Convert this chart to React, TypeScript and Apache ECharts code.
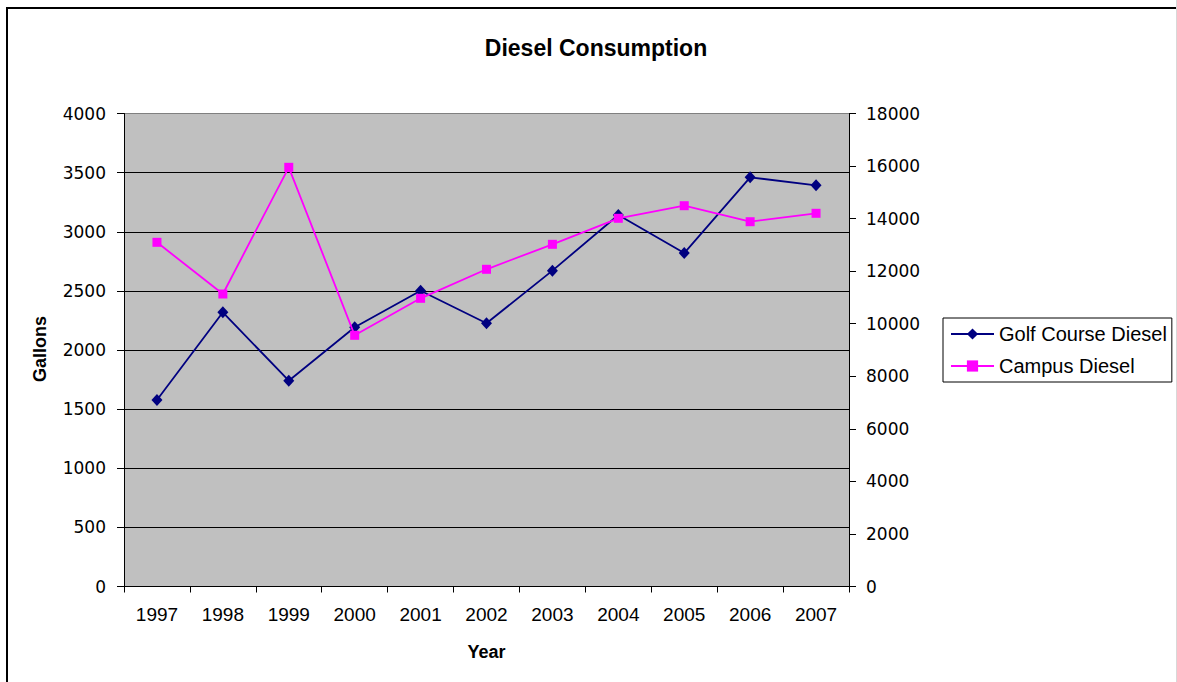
import React, { useEffect, useRef } from "react";
import * as echarts from "echarts";

const years = ["1997", "1998", "1999", "2000", "2001", "2002", "2003", "2004", "2005", "2006", "2007"];
const golfCourseDiesel = [1577, 2319, 1740, 2192, 2501, 2226, 2671, 3142, 2820, 3460, 3393];
const campusDiesel = [13098, 11131, 15952, 9559, 10967, 12071, 13022, 14012, 14491, 13882, 14202];

const titleText = "Diesel Consumption";
const yAxisTitle = "Gallons";
const xAxisTitle = "Year";

export default function App() {
  const ref = useRef<HTMLDivElement>(null);

  useEffect(() => {
    if (!ref.current) return;
    const chart = echarts.init(ref.current, undefined, { renderer: "svg" });
    const valueFont = {
      fontFamily: "DejaVu Sans",
      fontSize: 17,
      color: "#000",
      formatter: (v: number) => String(v),
    };
    const option: any = {
      animation: false,
      backgroundColor: "#fff",
      grid: {
        left: 124,
        right: 328,
        top: 113.5,
        bottom: 95.5,
        show: true,
        backgroundColor: "#C0C0C0",
        borderWidth: 0,
      },
      legend: {
        orient: "vertical",
        left: 943,
        top: 318,
        padding: [6, 5, 6, 7],
        itemWidth: 43,
        itemHeight: 14,
        itemGap: 12,
        borderColor: "#000",
        borderWidth: 1,
        textStyle: { fontFamily: "Liberation Sans", fontSize: 20, lineHeight: 20, color: "#000" },
        data: ["Golf Course Diesel", "Campus Diesel"],
      },
      xAxis: {
        type: "category",
        data: years,
        boundaryGap: true,
        axisLine: { lineStyle: { color: "#000", width: 1 } },
        axisTick: { show: true, length: 6, lineStyle: { color: "#000" } },
        axisLabel: { margin: 18, fontFamily: "Liberation Sans", fontSize: 19, color: "#000" },
        splitLine: { show: false },
      },
      yAxis: [
        {
          type: "value",
          min: 0,
          max: 4000,
          interval: 500,
          position: "left",
          axisLine: { show: true, lineStyle: { color: "#000", width: 1 } },
          axisTick: { show: true, length: 7, lineStyle: { color: "#000" } },
          axisLabel: { margin: 18, ...valueFont },
          splitLine: {
            show: true,
            lineStyle: {
              color: ["#000", "#000", "#000", "#000", "#000", "#000", "#000", "#000", "#808080"],
              width: 1,
            },
          },
        },
        {
          type: "value",
          min: 0,
          max: 18000,
          interval: 2000,
          position: "right",
          axisLine: { show: true, lineStyle: { color: "#000", width: 1 } },
          axisTick: { show: true, length: 7, lineStyle: { color: "#000" } },
          axisLabel: { margin: 17, ...valueFont },
          splitLine: { show: false },
        },
      ],
      series: [
        {
          name: "Golf Course Diesel",
          type: "line",
          yAxisIndex: 0,
          data: golfCourseDiesel,
          symbol: "diamond",
          symbolSize: [11, 12],
          lineStyle: { color: "#000080", width: 1.8 },
          itemStyle: { color: "#000080" },
          z: 3,
        },
        {
          name: "Campus Diesel",
          type: "line",
          yAxisIndex: 1,
          data: campusDiesel,
          symbol: "rect",
          symbolSize: 9,
          lineStyle: { color: "#FF00FF", width: 1.8 },
          itemStyle: { color: "#FF00FF" },
          z: 4,
        },
      ],
      graphic: [
        {
          type: "rect",
          shape: { x: 7, y: 8, width: 1180, height: 700 },
          style: { fill: "none", stroke: "#000", lineWidth: 2 },
          silent: true,
          z: -1,
        },
        {
          type: "line",
          shape: { x1: 1176.5, y1: 0, x2: 1176.5, y2: 682 },
          style: { stroke: "#d8d8d8", lineWidth: 1 },
          silent: true,
        },
        {
          type: "text",
          x: 596,
          y: 47.5,
          style: {
            text: titleText,
            fontFamily: "Liberation Sans",
            fontWeight: "bold",
            fontSize: 23,
            fill: "#000",
            align: "center",
            verticalAlign: "middle",
          },
        },
        {
          type: "text",
          x: 40,
          y: 349,
          rotation: Math.PI / 2,
          style: {
            text: yAxisTitle,
            fontFamily: "Liberation Sans",
            fontWeight: "bold",
            fontSize: 18,
            fill: "#000",
            align: "center",
            verticalAlign: "middle",
          },
        },
        {
          type: "text",
          x: 486.5,
          y: 651.5,
          style: {
            text: xAxisTitle,
            fontFamily: "Liberation Sans",
            fontWeight: "bold",
            fontSize: 18,
            fill: "#000",
            align: "center",
            verticalAlign: "middle",
          },
        },
      ],
    };
    chart.setOption(option);
    return () => chart.dispose();
  }, []);

  return (
    <div
      ref={ref}
      style={{ position: "absolute", left: 0, top: 0, width: 1177, height: 682 }}
    />
  );
}
